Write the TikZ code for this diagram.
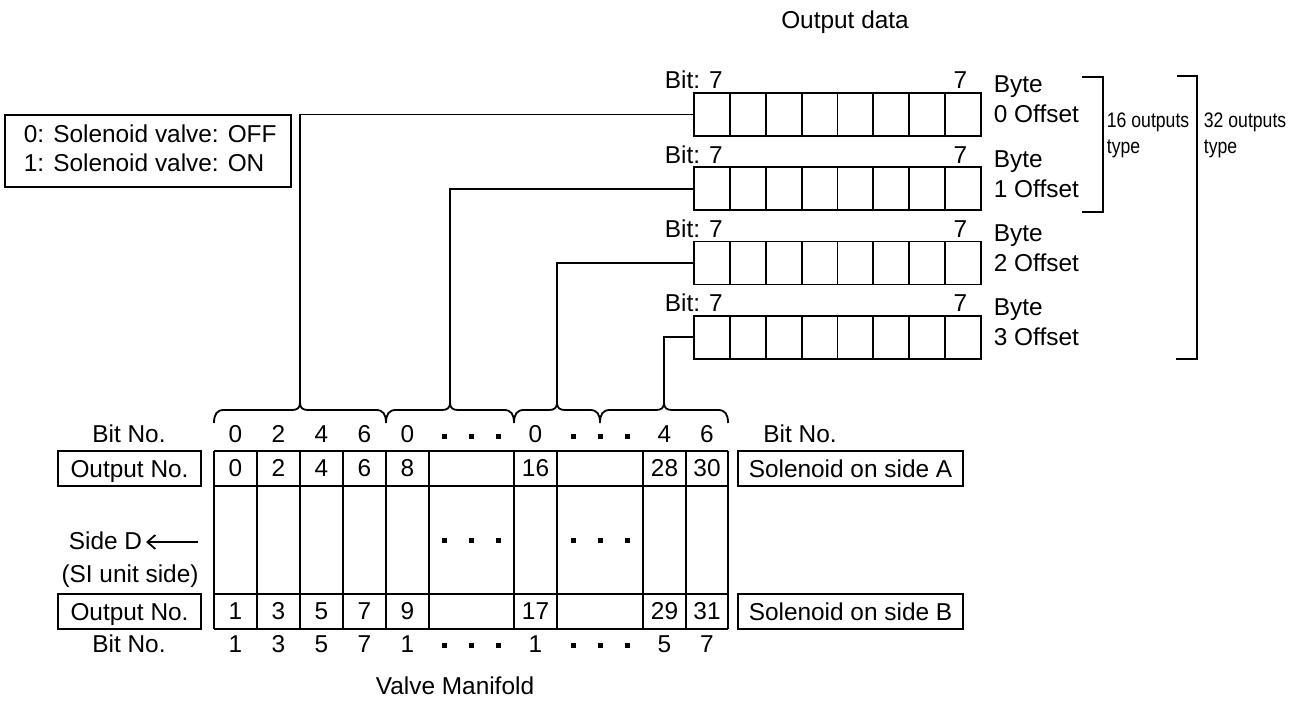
\documentclass[tikz,border=0pt]{standalone}
\usepackage{fontspec}
\setmainfont{Liberation Sans}
\newfontfamily\narrowfont[FakeStretch=0.84]{Liberation Sans}
\usetikzlibrary{arrows.meta}
\begin{document}
\begin{tikzpicture}[x=0.5pt,y=-0.5pt,line width=0.9pt,
  txt/.style={inner sep=0pt,anchor=base,font=\fontsize{12.2}{14}\selectfont},
  ntxt/.style={inner sep=0pt,anchor=base west,font=\narrowfont\fontsize{10.5}{12}\selectfont},
  regbox/.style={draw,inner sep=0pt,minimum width=143.5pt,minimum height=21.5pt},
  lbox/.style={draw,inner sep=0pt,text height=8.75pt,text depth=0pt,minimum height=17.5pt,font=\fontsize{12.2}{14}\selectfont},
  sqdot/.style={fill=black,draw=none}]
\useasboundingbox (0,0) rectangle (1300,704);

% title
\node[txt] (title) at (845,29) {Output data};

% legend box
\node[draw,inner sep=0pt,minimum width=143pt,minimum height=36pt] (legend) at (148,151) {};
\node[txt,anchor=base west] (leg1) at (23,143) {0: Solenoid valve: OFF};
\node[txt,anchor=base west] (leg2) at (23,172) {1: Solenoid valve: ON};

% registers
\foreach \k/\top in {0/93,1/167.3,2/241.6,3/315.9}{
  \node[regbox] (r\k) at (837.5,\top+21.5) {};
  \foreach \i in {1,...,7}{
    \draw (694+\i*35.875,\top) -- (694+\i*35.875,\top+43);
  }
  \node[txt,anchor=base west] (bitl\k) at (664,\top-4) {Bit: 7};
  \node[txt,anchor=base east] (bitr\k) at (968,\top-4) {7};
  \node[txt,anchor=base west] (byte\k) at (993,\top) {Byte};
  \node[txt,anchor=base west] (off\k) at (993,\top+30) {\k{} Offset};
}

% brackets
\draw (1082,77) -- (1103,77) -- (1103,212) -- (1082,212);
\draw (1177,76) -- (1197,76) -- (1197,359) -- (1176,359);
\node[ntxt] (t16a) at (1106,128) {16 outputs};
\node[ntxt] (t16b) at (1106,154) {type};
\node[ntxt] (t32a) at (1203,128) {32 outputs};
\node[ntxt] (t32b) at (1203,154) {type};

% braces
\foreach \xa/\xt/\xb/\n in {214/300/386/1,386/450/514/2,514/557/600/3,600/664/728/4}{
  \draw (\xa,423) .. controls (\xa,414) and (\xa+3,410) .. (\xa+10,410)
    -- (\xt-8,410) .. controls (\xt-3,410) and (\xt,408) .. (\xt,403)
    .. controls (\xt,408) and (\xt+3,410) .. (\xt+8,410)
    -- (\xb-10,410) .. controls (\xb-3,410) and (\xb,414) .. (\xb,423);
  \coordinate (tip\n) at (\xt,403);
}

% connectors
\draw (r0.west) -| (tip1);
\draw (r1.west) -| (tip2);
\draw (r2.west) -| (tip3);
\draw (r3.west) -| (tip4);

% table grid
\foreach \y in {451,486,594,629}{ \draw (214,\y) -- (728,\y); }
\foreach \x in {214,257,300,343,386,429,514,557,643,686,728}{ \draw (\x,451) -- (\x,629); }

% labels left/right
\node[txt] (bitnoL1) at (129,443) {Bit No.};
\node[txt] (bitnoR1) at (800,443) {Bit No.};
\node[lbox,minimum width=71.5pt] (outA) at (129.5,468.5) {Output No.};
\node[lbox,minimum width=71.5pt] (outB) at (129.5,611.5) {Output No.};
\node[lbox,minimum width=112.5pt] (solA) at (850.5,468.5) {Solenoid on side A};
\node[lbox,minimum width=112.5pt] (solB) at (850.5,611.5) {Solenoid on side B};
\node[txt] (bitnoL2) at (129,653) {Bit No.};
\node[txt,anchor=base east] (sideD) at (143,550) {Side D};
\coordinate (arrS) at (198,542);
\coordinate (arrE) at (146,542);
\draw[-{Straight Barb[length=4pt,width=7pt]}] (arrS) -- (arrE);
\node[txt] (siu) at (130,583) {(SI unit side)};
\node[txt] (vm) at (455,694) {Valve Manifold};

% cell texts
\foreach \x/\a/\b/\c/\d in {235.5/0/0/1/1,278.5/2/2/3/3,321.5/4/4/5/5,364.5/6/6/7/7,407.5/0/8/9/1,535.5/0/16/17/1,664.5/4/28/29/5,707/6/30/31/7}{
  \node[txt] at (\x,443) {\a};
  \node[txt] at (\x,477) {\b};
  \node[txt] at (\x,620) {\c};
  \node[txt] at (\x,653) {\d};
}

% dots
\foreach \cx in {471.5,600}{
  \foreach \dx in {-27,0,27}{
    \foreach \cy in {437,541,646}{
      \fill[sqdot] (\cx+\dx-2.5,\cy-2.5) rectangle (\cx+\dx+2.5,\cy+2.5);
    }
  }
}
\end{tikzpicture}
\end{document}
